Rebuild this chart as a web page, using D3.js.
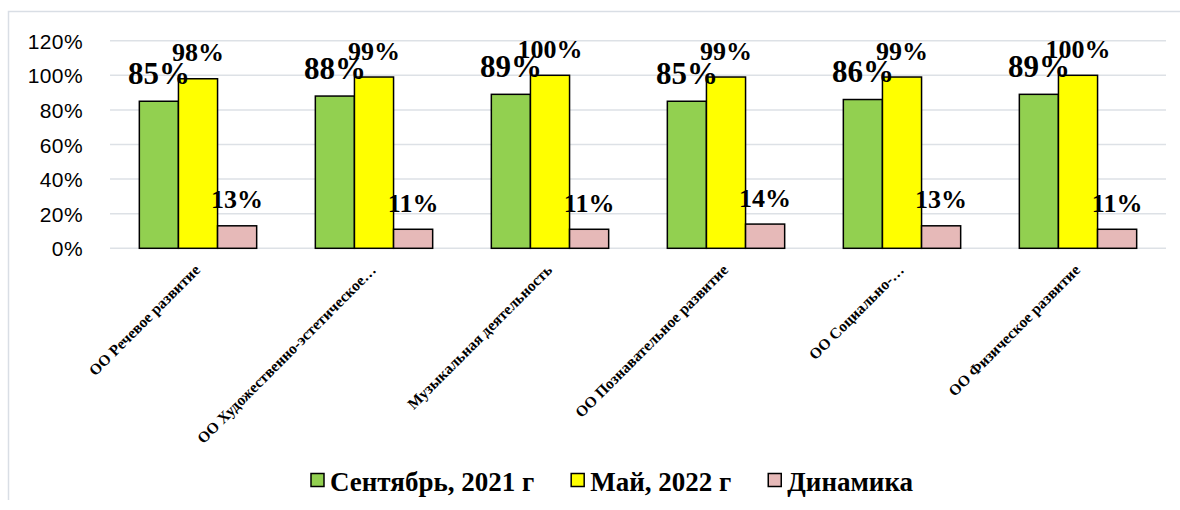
<!DOCTYPE html>
<html>
<head>
<meta charset="utf-8">
<script src="https://cdn.jsdelivr.net/npm/d3@7"></script>
<style>
  html, body { margin: 0; padding: 0; background: #ffffff; }
  svg { display: block; }
</style>
</head>
<body>
<script>
// ---- data ----
const categories = [
  "ОО Речевое развитие",
  "ОО Художественно-эстетическое…",
  "Музыкальная деятельность",
  "ОО Познавательное развитие",
  "ОО Социально-…",
  "ОО Физическое развитие"
];
const seriesNames = ["Сентябрь, 2021 г", "Май, 2022 г", "Динамика"];
const september2021 = [85, 88, 89, 85, 86, 89];
const may2022 = [98, 99, 100, 99, 99, 100];
const dynamics = [13, 11, 11, 14, 13, 11];
const yTicks = [0, 20, 40, 60, 80, 100, 120];

// ---- layout / style ----
const W = 1180, H = 510;
const colors = ["#92d050", "#ffff00", "#e6b9b8"];
const labelSizes = [31, 26, 26];
const series = [september2021, may2022, dynamics];

const svg = d3.select("body").append("svg").attr("width", W).attr("height", H);

// outer chart border (only top and left visible)
svg.append("path")
  .attr("d", "M8.5,500 L8.5,11.5 L1180,11.5")
  .attr("fill", "none").attr("stroke", "#d9dee5").attr("stroke-width", 1.5);

const plotLeft = 110, plotRight = 1166, plotTop = 40.7, plotBottom = 248.3;

const x = d3.scaleBand().domain(d3.range(categories.length)).range([plotLeft, plotRight]).paddingInner(0).paddingOuter(0);
const bw = x.bandwidth() / 4.5;
const xInner = d3.scaleBand().domain(d3.range(3)).range([0, bw * 3]);
const y = d3.scaleLinear().domain([0, 120]).range([plotBottom, plotTop]);

// gridlines
svg.append("g").selectAll("line").data(yTicks).join("line")
  .attr("x1", plotLeft).attr("x2", plotRight)
  .attr("y1", d => y(d)).attr("y2", d => y(d))
  .attr("stroke", "#dde1e6").attr("stroke-width", 1.5);

// y axis labels
const yAxis = d3.axisLeft(y).tickValues(yTicks).tickFormat(d => d + "%").tickSize(0).tickPadding(0);
const yg = svg.append("g").attr("transform", `translate(${83},0)`).call(yAxis);
yg.select(".domain").remove();
yg.selectAll("text")
  .attr("font-family", "'Liberation Sans', Arial, sans-serif")
  .attr("font-size", 21).attr("letter-spacing", 0.4).attr("fill", "#000").attr("dy", "0.36em");

// bars
const groups = svg.append("g").selectAll("g").data(categories.map((c, i) => i)).join("g")
  .attr("transform", i => `translate(${x(i) + (x.bandwidth() - bw * 3) / 2},0)`);

groups.selectAll("rect").data(i => series.map((s, k) => ({ k, v: s[i] }))).join("rect")
  .attr("x", d => xInner(d.k))
  .attr("width", xInner.bandwidth())
  .attr("y", d => y(d.v))
  .attr("height", d => y(0) - y(d.v))
  .attr("fill", d => colors[d.k])
  .attr("stroke", "#000").attr("stroke-width", 1.5);

groups.selectAll("text").data(i => series.map((s, k) => ({ k, v: s[i] }))).join("text")
  .attr("x", d => xInner(d.k) + xInner.bandwidth() / 2)
  .attr("y", d => y(d.v) - 17.5)
  .attr("text-anchor", "middle")
  .attr("font-family", "'Liberation Serif', 'Times New Roman', serif")
  .attr("font-weight", "bold")
  .attr("font-size", d => labelSizes[d.k])
  .attr("fill", "#000")
  .text(d => d.v + "%");

// category labels
svg.append("g").selectAll("text").data(categories.map((c, i) => i)).join("text")
  .attr("transform", i => `translate(${x(i) + x.bandwidth() / 2 + 3},${271}) rotate(-45)`)
  .attr("text-anchor", "end")
  .attr("font-family", "'Liberation Serif', 'Times New Roman', serif")
  .attr("font-weight", "bold")
  .attr("font-size", 15.5)
  .attr("fill", "#000")
  .text(i => categories[i]);

// legend
const legend = svg.append("g");
let lx = 311;
seriesNames.forEach((name, k) => {
  legend.append("rect").attr("x", lx).attr("y", 473.5).attr("width", 13).attr("height", 13)
    .attr("fill", colors[k]).attr("stroke", "#000").attr("stroke-width", 1.5);
  const t = legend.append("text").attr("x", lx + 19).attr("y", 491)
    .attr("font-family", "'Liberation Serif', 'Times New Roman', serif")
    .attr("font-weight", "bold").attr("font-size", 27).attr("fill", "#000")
    .text(name);
  lx += 19 + t.node().getComputedTextLength() + 37;
});
</script>
</body>
</html>
